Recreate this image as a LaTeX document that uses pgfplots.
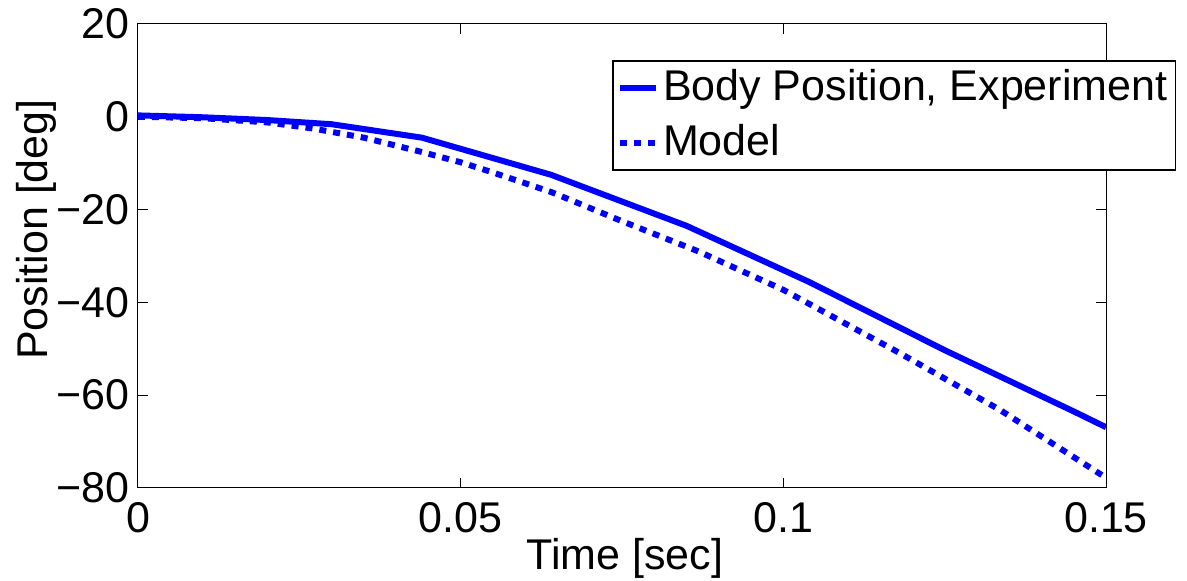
\documentclass[border=0pt]{standalone}
\usepackage{fontspec}
\setmainfont{Liberation Sans}
\usepackage{pgfplots}
\pgfplotsset{compat=1.18}
\definecolor{mblue}{RGB}{0,0,255}
\begin{document}
\fontsize{21.5}{26}\selectfont
\begin{tikzpicture}
\path[use as bounding box] (-69pt,-46.5pt) rectangle (524.5pt,244pt);
\begin{axis}[
  at={(0pt,0pt)}, anchor=south west,
  scale only axis, width=484pt, height=232pt,
  xmin=0, xmax=0.15, ymin=-80, ymax=20,
  xtick={0,0.05,0.1,0.15}, xticklabels={0,0.05,0.1,0.15},
  ytick={-80,-60,-40,-20,0,20}, yticklabels={−80,−60,−40,−20,0,20},
  yticklabel style={xshift=3pt},
  tick align=inside, major tick length=5pt,
  axis line style={line width=0.5pt},
  every tick/.style={black, line width=0.5pt},
  xlabel={Time [sec]}, ylabel={Position [deg]},
  xlabel style={at={(axis description cs:0.503,-0.1767)}, anchor=base},
  ylabel style={at={(axis description cs:-0.094,0.557)}, anchor=base},
  legend style={at={(0.49,0.922)}, anchor=north west, draw=black, line width=0.75pt,
    inner sep=2pt, row sep=5pt, font=\fontsize{21.5}{26}\selectfont},
  legend cell align=left,
  legend image code/.code={\draw[#1] (0pt,0pt) -- (18pt,0pt);},
]
\addplot[mblue, line width=3pt] coordinates {
(0,0.3) (0.01,-0.1) (0.02,-0.7) (0.03,-1.6) (0.044,-4.5) (0.064,-12.5)
(0.085,-23.5) (0.104,-35.6) (0.125,-50.3) (0.145,-63.5) (0.15,-66.9)};
\addlegendentry{Body Position, Experiment}
\addplot[mblue, line width=3pt, dash pattern=on 3.5pt off 3.5pt] coordinates {
(0,0) (0.01,-0.3) (0.02,-1.2) (0.027,-2.5) (0.035,-4.5) (0.044,-7.6) (0.05,-9.8)
(0.055,-12) (0.064,-16.2) (0.075,-22.5) (0.087,-29.1) (0.1,-37.3) (0.118,-50.9)
(0.1336,-63.2) (0.15,-77.8)};
\addlegendentry{Model}
\end{axis}
\end{tikzpicture}
\end{document}
